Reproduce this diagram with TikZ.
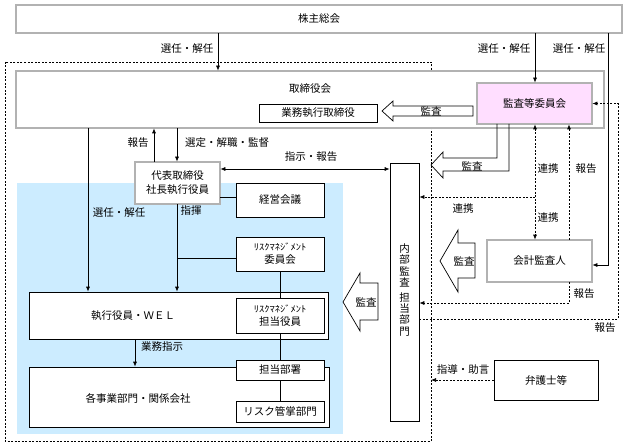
\documentclass[tikz,border=0pt]{standalone}
\usepackage{fontspec}
\setmainfont{Noto Sans CJK JP}
\usetikzlibrary{arrows.meta}
\definecolor{pinkbg}{RGB}{255,222,255}
\definecolor{bluebg}{RGB}{204,236,255}
\begin{document}
\begin{tikzpicture}[x=1pt,y=-1pt,
  font=\fontsize{10.5}{12}\selectfont,
  box/.style={draw, line width=0.7pt, fill=white, inner sep=0pt, align=center},
  dbox/.style={box, double=gray!60, double distance=1.3pt},
  arr/.style={-{Latex[length=5pt,width=4pt]}, line width=0.7pt},
  barr/.style={{Latex[length=5pt,width=4pt]}-{Latex[length=5pt,width=4pt]}, line width=0.7pt},
  dsh/.style={dash pattern=on 2pt off 1.5pt, line width=0.7pt},
  blk/.style={draw, line width=0.7pt, line join=miter},
  lbl/.style={inner sep=0pt}]
\useasboundingbox (0,0) rectangle (628,446);
% frames
\draw[dsh] (5,62) rectangle (431,441);
\fill[bluebg] (17,183) rectangle (343,434);
% boxes
\node[dbox, minimum width=606pt, minimum height=28pt] (kabu) at (319,19) {株主総会};
\node[dbox, minimum width=588pt, minimum height=57pt] (tori) at (310,99.5) {};
\node[lbl] at (310,89) {取締役会};
\node[box, minimum width=118pt, minimum height=18pt] (gyomu) at (318,113) {業務執行取締役};
\node[dbox, fill=pinkbg, minimum width=115pt, minimum height=41pt] (kansa) at (534.5,103.5) {監査等委員会};
\node[dbox, minimum width=85pt, minimum height=42pt, font=\fontsize{10.5}{14}\selectfont] (daihyo) at (177.5,183) {代表取締役\\社長執行役員};
\node[box, minimum width=88pt, minimum height=34pt] (keiei) at (280,200) {経営会議};
\node[box, minimum width=88pt, minimum height=34pt] (riskI) at (280,254) {{\fontsize{10.5}{10}\selectfont\scalebox{1}[0.85]{ﾘｽｸﾏﾈｼﾞﾒﾝﾄ}}\\[1pt]委員会};
\node[box, minimum width=299pt, minimum height=47pt] (shikko) at (178.5,315.5) {};
\node[lbl] at (133,316) {執行役員・ＷＥＬ};
\node[box, minimum width=88pt, minimum height=35pt] (riskT) at (280,315.5) {{\fontsize{10.5}{10}\selectfont\scalebox{1}[0.85]{ﾘｽｸﾏﾈｼﾞﾒﾝﾄ}}\\[1pt]担当役員};
\node[box, minimum width=300pt, minimum height=60pt] (kaku) at (179,397) {};
\node[lbl] at (138,398) {各事業部門・関係会社};
\node[box, minimum width=88pt, minimum height=20pt] (tanto) at (280,370) {担当部署};
\node[box, minimum width=88pt, minimum height=21pt] (riskK) at (280,411.5) {リスク管掌部門};
\node[box, minimum width=29pt, minimum height=258pt] (naibu) at (404.5,292) {};
\node[lbl, align=center, font=\fontsize{10.5}{11.4}\selectfont] at (404.5,290) {内\\部\\監\\査\\[3pt]担\\当\\部\\門};
\node[dbox, minimum width=105pt, minimum height=42pt] (kaikei) at (539.5,261) {会計監査人};
\node[box, minimum width=104pt, minimum height=40pt] (bengo) at (546,380) {弁護士等};
% coordinates
\coordinate (c1) at (618,319);
\coordinate (c2) at (569,303);
\coordinate (c3) at (608,265);
\coordinate (j1) at (177,258);
\coordinate (j2) at (535,197);
\coordinate (bd) at (431,380);
% solid connectors
\draw[arr] (kabu.south -| 218,0) -- (tori.north -| 218,0);
\node[lbl] at (187,49) {選任・解任};
\draw[arr] (kabu.south -| 535,0) -- (kansa.north -| 535,0);
\node[lbl] at (504,49) {選任・解任};
\draw[arr] (kabu.south -| c3) -- (c3) -- (kaikei.east |- c3);
\node[lbl] at (579,49) {選任・解任};
\draw[arr] (daihyo.north -| 154,0) -- (tori.south -| 154,0);
\node[lbl] at (138,143) {報告};
\draw[arr] (tori.south -| 177,0) -- (daihyo.north -| 177,0);
\node[lbl] at (227,143) {選定・解職・監督};
\draw[barr] (daihyo.east |- 0,169) -- (naibu.west |- 0,169);
\node[lbl] at (311,157) {指示・報告};
\draw[arr] (tori.south -| 88,0) -- (shikko.north -| 88,0);
\node[lbl] at (119,213) {選任・解任};
\draw[arr] (daihyo.south -| 177,0) -- (shikko.north -| 177,0);
\node[lbl] at (191,211) {指揮};
\draw[line width=0.7pt] (daihyo.east |- 0,197) -- (keiei.west |- 0,197);
\draw[line width=0.7pt] (j1) -- (riskI.west |- j1);
\draw[line width=0.7pt] (riskI.south) -- (riskT.north);
\draw[line width=0.7pt] (riskT.south) -- (tanto.north);
\draw[line width=0.7pt] (tanto.south) -- (riskK.north);
\draw[arr] (shikko.south -| 135,0) -- (kaku.north -| 135,0);
\node[lbl] at (162,347) {業務指示};
% dashed connectors
\draw[arr, dsh] (naibu.east |- c1) -- (c1) -- (c1 |- kansa.east) -- (kansa.east);
\node[lbl] at (605,328) {報告};
\draw[arr, dsh] (kaikei.north -| 569,0) -- (kansa.south -| 569,0);
\node[lbl] at (586,169) {報告};
\draw[arr, dsh] (kaikei.south -| c2) -- (c2) -- (naibu.east |- c2);
\node[lbl] at (584,294) {報告};
\draw[barr, dsh] (kansa.south -| j2) -- (kaikei.north -| j2);
\node[lbl] at (548,169) {連携};
\node[lbl] at (548,218) {連携};
\draw[arr, dsh] (j2) -- (naibu.east |- j2);
\node[lbl] at (463,209) {連携};
\draw[arr, dsh] (bengo.west) -- (bd);
\node[lbl] at (463,370) {指導・助言};
% block arrows
\draw[blk] (382,111) -- (393,101) -- (393,106) -- (473,106) -- (473,116) -- (393,116) -- (393,121) -- cycle;
\node[lbl] at (431,111) {監査};
\draw[blk] (497,124) -- (497,158) -- (443,158) -- (443,152) -- (431,165) -- (443,178) -- (443,171) -- (509,171) -- (509,124);
\node[lbl] at (472,166) {監査};
\draw[blk] (440,261) -- (458,230) -- (458,243) -- (475,243) -- (475,278) -- (458,278) -- (458,292) -- cycle;
\node[lbl] at (464,261) {監査};
\draw[blk] (343,302) -- (360,273) -- (360,283) -- (378,283) -- (378,320) -- (360,320) -- (360,331) -- cycle;
\node[lbl] at (366,302) {監査};
\end{tikzpicture}
\end{document}
